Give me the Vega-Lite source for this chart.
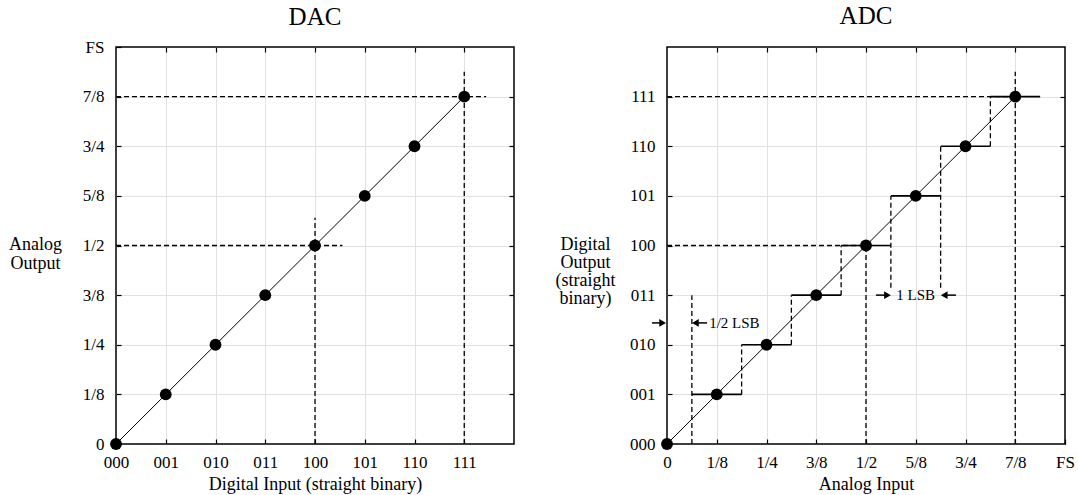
{
  "$schema": "https://vega.github.io/schema/vega-lite/v6.json",
  "padding": {"left": 7, "top": 3, "right": 0, "bottom": 0},
  "spacing": 38,
  "datasets": {
    "dac_pts": [
      {"x": 0, "y": 0}, {"x": 1, "y": 0.125}, {"x": 2, "y": 0.25}, {"x": 3, "y": 0.375},
      {"x": 4, "y": 0.5}, {"x": 5, "y": 0.625}, {"x": 6, "y": 0.75}, {"x": 7, "y": 0.875}
    ],
    "dac_line": [{"x": 0, "y": 0, "x2": 7, "y2": 0.875}],
    "dac_dash": [
      {"x": 0, "y": 0.5, "x2": 4.55, "y2": 0.5},
      {"x": 4, "y": 0, "x2": 4, "y2": 0.57},
      {"x": 0, "y": 0.875, "x2": 7.44, "y2": 0.875},
      {"x": 7, "y": 0, "x2": 7, "y2": 0.9375}
    ],
    "adc_pts": [
      {"x": 0, "y": 0}, {"x": 0.125, "y": 1}, {"x": 0.25, "y": 2}, {"x": 0.375, "y": 3},
      {"x": 0.5, "y": 4}, {"x": 0.625, "y": 5}, {"x": 0.75, "y": 6}, {"x": 0.875, "y": 7}
    ],
    "adc_diag": [{"x": 0, "y": 0, "x2": 0.875, "y2": 7}],
    "adc_steps": [
      {"x": 0.0625, "x2": 0.1875, "y": 1},
      {"x": 0.1875, "x2": 0.3125, "y": 2},
      {"x": 0.3125, "x2": 0.4375, "y": 3},
      {"x": 0.4375, "x2": 0.5625, "y": 4},
      {"x": 0.5625, "x2": 0.6875, "y": 5},
      {"x": 0.6875, "x2": 0.8125, "y": 6},
      {"x": 0.8125, "x2": 0.9375, "y": 7}
    ],
    "adc_dash": [
      {"x": 0, "x2": 0.5, "y": 4, "y2": 4},
      {"x": 0, "x2": 0.875, "y": 7, "y2": 7},
      {"x": 0.5, "x2": 0.5, "y": 0, "y2": 4},
      {"x": 0.875, "x2": 0.875, "y": 0, "y2": 7.5},
      {"x": 0.0625, "x2": 0.0625, "y": 0, "y2": 3},
      {"x": 0.1875, "x2": 0.1875, "y": 1, "y2": 2},
      {"x": 0.3125, "x2": 0.3125, "y": 2, "y2": 3},
      {"x": 0.4375, "x2": 0.4375, "y": 3, "y2": 4},
      {"x": 0.5625, "x2": 0.5625, "y": 3.15, "y2": 5},
      {"x": 0.6875, "x2": 0.6875, "y": 3.15, "y2": 6},
      {"x": 0.8125, "x2": 0.8125, "y": 6, "y2": 7}
    ],
    "adc_shafts": [
      {"x": -0.0377, "x2": -0.011, "y": 2.44},
      {"x": 0.0714, "x2": 0.1005, "y": 2.44},
      {"x": 0.525, "x2": 0.554, "y": 3},
      {"x": 0.6965, "x2": 0.726, "y": 3}
    ],
    "adc_heads_right": [{"x": -0.011, "y": 2.44}, {"x": 0.554, "y": 3}],
    "adc_heads_left": [{"x": 0.0714, "y": 2.44}, {"x": 0.6965, "y": 3}],
    "adc_text": [
      {"x": 0.106, "y": 2.44, "label": "1/2 LSB"},
      {"x": 0.576, "y": 3, "label": "1 LSB"}
    ]
  },
  "hconcat": [
    {
      "title": {"text": "DAC", "offset": 8},
      "width": 398,
      "height": 397,
      "resolve": {"axis": {"x": "independent", "y": "independent"}},
      "layer": [
        {
          "data": {"name": "dac_dash"},
          "mark": {"type": "rule", "color": "black", "strokeWidth": 1.3, "strokeDash": [5, 3]},
          "encoding": {
            "x": {"field": "x", "type": "quantitative", "scale": {"domain": [0, 8], "nice": false},
              "axis": {"orient": "bottom", "values": [0, 1, 2, 3, 4, 5, 6, 7],
                "labelExpr": "['000','001','010','011','100','101','110','111'][datum.value]",
                "title": "Digital Input (straight binary)", "grid": true,
                "gridOpacity": {"condition": {"test": "datum.value == 0", "value": 0}, "value": 1},
                "labelPadding": 28, "labelBaseline": "alphabetic",
                "titleBaseline": "alphabetic", "titleY": 45}},
            "y": {"field": "y", "type": "quantitative", "scale": {"domain": [0, 1], "nice": false},
              "axis": {"orient": "left", "values": [0, 0.125, 0.25, 0.375, 0.5, 0.625, 0.75, 0.875, 1],
                "labelExpr": "['0','1/8','1/4','3/8','1/2','5/8','3/4','7/8','FS'][round(datum.value*8)]",
                "title": ["Analog", "Output"], "titleAngle": 0, "titleAlign": "center",
                "titleBaseline": "alphabetic", "titleX": -81, "titleY": 202, "titleLineHeight": 19,
                "grid": true,
                "gridOpacity": {"condition": {"test": "datum.value == 0 || datum.value == 1", "value": 0}, "value": 1},
                "labelPadding": 17}},
            "x2": {"field": "x2"},
            "y2": {"field": "y2"}
          }
        },
        {
          "data": {"name": "dac_line"},
          "mark": {"type": "rule", "color": "black", "strokeWidth": 1},
          "encoding": {
            "x": {"field": "x", "type": "quantitative",
              "axis": {"orient": "top", "values": [1, 2, 3, 4, 5, 6, 7], "labels": false, "grid": false, "title": null}},
            "y": {"field": "y", "type": "quantitative",
              "axis": {"orient": "right", "values": [0.125, 0.25, 0.375, 0.5, 0.625, 0.75, 0.875], "labels": false, "grid": false, "title": null}},
            "x2": {"field": "x2"},
            "y2": {"field": "y2"}
          }
        },
        {
          "data": {"name": "dac_pts"},
          "mark": {"type": "circle", "color": "black", "size": 140, "opacity": 1},
          "encoding": {
            "x": {"field": "x", "type": "quantitative", "axis": null},
            "y": {"field": "y", "type": "quantitative", "axis": null}
          }
        }
      ]
    },
    {
      "title": {"text": "ADC", "offset": 17},
      "width": 398,
      "height": 397,
      "resolve": {"axis": {"x": "independent", "y": "independent"}},
      "layer": [
        {
          "data": {"name": "adc_dash"},
          "mark": {"type": "rule", "color": "black", "strokeWidth": 1.3, "strokeDash": [5, 3]},
          "encoding": {
            "x": {"field": "x", "type": "quantitative", "scale": {"domain": [0, 1], "nice": false},
              "axis": {"orient": "bottom", "values": [0, 0.125, 0.25, 0.375, 0.5, 0.625, 0.75, 0.875, 1],
                "labelExpr": "['0','1/8','1/4','3/8','1/2','5/8','3/4','7/8','FS'][round(datum.value*8)]",
                "title": "Analog Input", "grid": true,
                "gridOpacity": {"condition": {"test": "datum.value == 0 || datum.value == 1", "value": 0}, "value": 1},
                "labelPadding": 28, "labelBaseline": "alphabetic",
                "titleBaseline": "alphabetic", "titleY": 45}},
            "y": {"field": "y", "type": "quantitative", "scale": {"domain": [0, 8], "nice": false},
              "axis": {"orient": "left", "values": [0, 1, 2, 3, 4, 5, 6, 7],
                "labelExpr": "['000','001','010','011','100','101','110','111'][datum.value]",
                "title": ["Digital", "Output", "(straight", "binary)"], "titleAngle": 0, "titleAlign": "center",
                "titleBaseline": "alphabetic", "titleX": -82, "titleY": 202, "titleLineHeight": 18,
                "grid": true,
                "gridOpacity": {"condition": {"test": "datum.value == 0", "value": 0}, "value": 1},
                "labelPadding": 17}},
            "x2": {"field": "x2"},
            "y2": {"field": "y2"}
          }
        },
        {
          "data": {"name": "adc_diag"},
          "mark": {"type": "rule", "color": "black", "strokeWidth": 1},
          "encoding": {
            "x": {"field": "x", "type": "quantitative",
              "axis": {"orient": "top", "values": [0.125, 0.25, 0.375, 0.5, 0.625, 0.75, 0.875], "labels": false, "grid": false, "title": null}},
            "y": {"field": "y", "type": "quantitative",
              "axis": {"orient": "right", "values": [1, 2, 3, 4, 5, 6, 7], "labels": false, "grid": false, "title": null}},
            "x2": {"field": "x2"},
            "y2": {"field": "y2"}
          }
        },
        {
          "data": {"name": "adc_steps"},
          "mark": {"type": "rule", "color": "black", "strokeWidth": 1.6},
          "encoding": {
            "x": {"field": "x", "type": "quantitative", "axis": null},
            "x2": {"field": "x2"},
            "y": {"field": "y", "type": "quantitative", "axis": null}
          }
        },
        {
          "data": {"name": "adc_shafts"},
          "mark": {"type": "rule", "color": "black", "strokeWidth": 1.5},
          "encoding": {
            "x": {"field": "x", "type": "quantitative", "axis": null},
            "x2": {"field": "x2"},
            "y": {"field": "y", "type": "quantitative", "axis": null}
          }
        },
        {
          "data": {"name": "adc_heads_right"},
          "mark": {"type": "point", "shape": "triangle-right", "filled": true, "color": "black", "size": 60, "opacity": 1},
          "encoding": {
            "x": {"field": "x", "type": "quantitative", "axis": null},
            "y": {"field": "y", "type": "quantitative", "axis": null}
          }
        },
        {
          "data": {"name": "adc_heads_left"},
          "mark": {"type": "point", "shape": "triangle-left", "filled": true, "color": "black", "size": 60, "opacity": 1},
          "encoding": {
            "x": {"field": "x", "type": "quantitative", "axis": null},
            "y": {"field": "y", "type": "quantitative", "axis": null}
          }
        },
        {
          "data": {"name": "adc_text"},
          "mark": {"type": "text", "align": "left", "baseline": "middle", "font": "Liberation Serif", "fontSize": 15, "color": "black"},
          "encoding": {
            "x": {"field": "x", "type": "quantitative", "axis": null},
            "y": {"field": "y", "type": "quantitative", "axis": null},
            "text": {"field": "label"}
          }
        },
        {
          "data": {"name": "adc_pts"},
          "mark": {"type": "circle", "color": "black", "size": 140, "opacity": 1},
          "encoding": {
            "x": {"field": "x", "type": "quantitative", "axis": null},
            "y": {"field": "y", "type": "quantitative", "axis": null}
          }
        }
      ]
    }
  ],
  "config": {
    "font": "Liberation Serif",
    "view": {"stroke": "black", "strokeWidth": 1.5},
    "axis": {
      "labelFont": "Liberation Serif", "labelFontSize": 17, "labelColor": "black",
      "titleFont": "Liberation Serif", "titleFontSize": 18, "titleFontWeight": "normal", "titleColor": "black",
      "tickColor": "black", "tickSize": -5, "tickWidth": 1.2, "domain": false,
      "gridColor": "#e2e2e2", "gridWidth": 1,
      "labelFlush": false, "labelOverlap": false, "labelBound": false
    },
    "title": {"font": "Liberation Serif", "fontSize": 25, "fontWeight": "normal", "color": "black",
      "frame": "group", "anchor": "middle"}
  }
}
